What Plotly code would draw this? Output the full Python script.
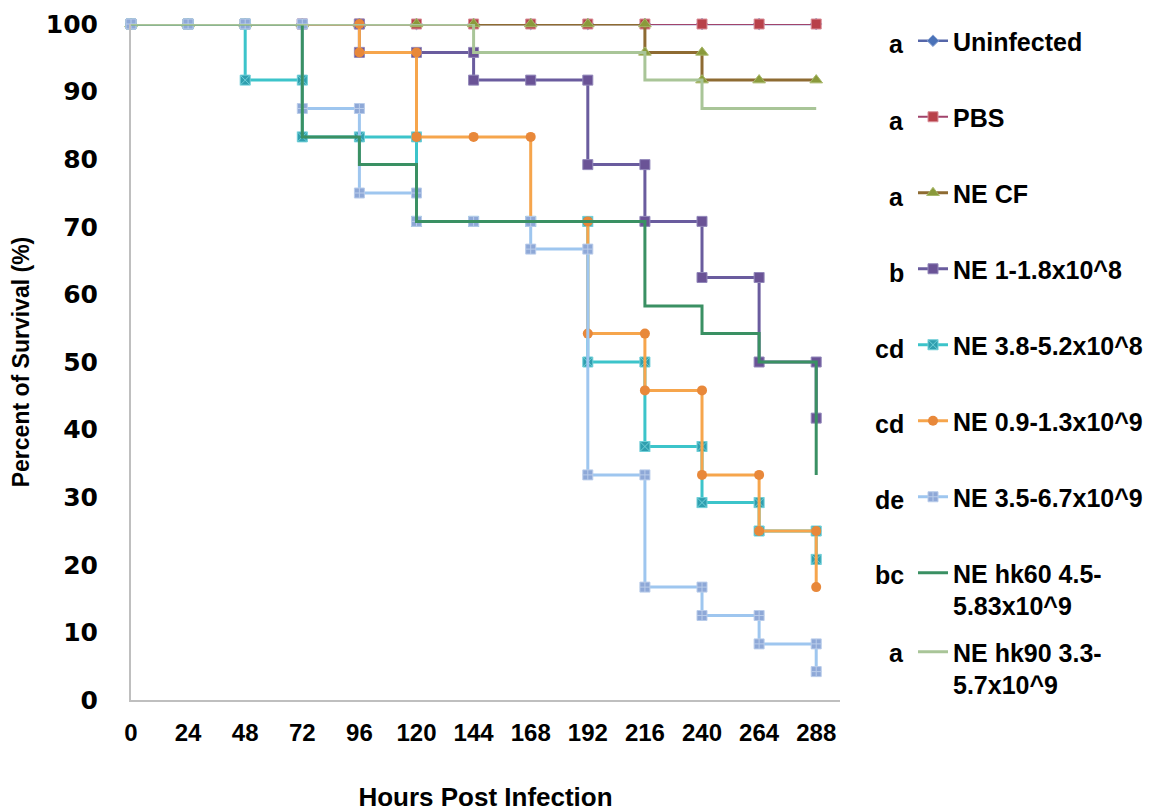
import plotly.graph_objects as go

# Sampling times (hours post infection) used for the axis ticks
hours = [0, 24, 48, 72, 96, 120, 144, 168, 192, 216, 240, 264, 288]

# Kaplan-Meier style step data: repeated hours mark the drop at that time point
uninfected_h = hours
uninfected_s = [100] * 13

pbs_h = hours
pbs_s = [100] * 13

cf_h = [0, 24, 48, 72, 96, 120, 144, 168, 192, 216, 216, 240, 240, 264, 288]
cf_s = [100, 100, 100, 100, 100, 100, 100, 100, 100, 100, 95.8, 95.8, 91.7, 91.7, 91.7]

ne8a_h = [0, 24, 48, 72, 96, 96, 120, 144, 144, 168, 192, 192, 216, 216, 240, 240, 264, 264, 288, 288]
ne8a_s = [100, 100, 100, 100, 100, 95.8, 95.8, 95.8, 91.7, 91.7, 91.7, 79.2, 79.2, 70.8, 70.8, 62.5, 62.5, 50, 50, 41.7]

ne8b_h = [0, 24, 48, 48, 72, 72, 96, 120, 120, 144, 168, 192, 192, 216, 216, 240, 240, 264, 264, 288, 288]
ne8b_s = [100, 100, 100, 91.7, 91.7, 83.3, 83.3, 83.3, 70.8, 70.8, 70.8, 70.8, 50, 50, 37.5, 37.5, 29.2, 29.2, 25, 25, 20.8]

ne9a_h = [0, 24, 48, 72, 96, 96, 120, 120, 144, 168, 168, 192, 192, 216, 216, 240, 240, 264, 264, 288, 288]
ne9a_s = [100, 100, 100, 100, 100, 95.8, 95.8, 83.3, 83.3, 83.3, 70.8, 70.8, 54.2, 54.2, 45.8, 45.8, 33.3, 33.3, 25, 25, 16.7]

ne9b_h = [0, 24, 48, 72, 72, 96, 96, 120, 120, 144, 168, 168, 192, 192, 216, 216, 240, 240, 264, 264, 288, 288]
ne9b_s = [100, 100, 100, 100, 87.5, 87.5, 75, 75, 70.8, 70.8, 70.8, 66.7, 66.7, 33.3, 33.3, 16.7, 16.7, 12.5, 12.5, 8.3, 8.3, 4.2]

hk60_h = [0, 24, 48, 72, 72, 96, 96, 120, 120, 144, 168, 192, 216, 216, 240, 240, 264, 264, 288, 288]
hk60_s = [100, 100, 100, 100, 83.3, 83.3, 79.2, 79.2, 70.8, 70.8, 70.8, 70.8, 70.8, 58.3, 58.3, 54.2, 54.2, 50, 50, 33.3]

hk90_h = [0, 24, 48, 72, 96, 120, 144, 144, 168, 192, 216, 216, 240, 240, 264, 288]
hk90_s = [100, 100, 100, 100, 100, 100, 100, 95.8, 95.8, 95.8, 95.8, 91.7, 91.7, 87.5, 87.5, 87.5]

# Group names and their statistical letters
names = ["Uninfected", "PBS", "NE CF", "NE 1-1.8x10^8", "NE 3.8-5.2x10^8",
         "NE 0.9-1.3x10^9", "NE 3.5-6.7x10^9", "NE hk60 4.5-<br>5.83x10^9",
         "NE hk90 3.3-<br>5.7x10^9"]
letters = ["a", "a", "a", "b", "cd", "cd", "de", "bc", "a"]

series = [
    (uninfected_h, uninfected_s, dict(color="#5566A9", width=2.5),
     dict(symbol="diamond", size=9, color="#4A72B8", line=dict(color="#8AA3D3", width=1))),
    (pbs_h, pbs_s, dict(color="#A1436B", width=2),
     dict(symbol="square", size=10, color="#B8414A", line=dict(color="#D9909A", width=1))),
    (cf_h, cf_s, dict(color="#8E6B32", width=3),
     dict(symbol="triangle-up", size=11, color="#8A9A3B", line=dict(color="#A8B86A", width=1))),
    (ne8a_h, ne8a_s, dict(color="#6A5C9E", width=3),
     dict(symbol="square", size=10, color="#6A5396", line=dict(color="#9288BA", width=1))),
    (ne8b_h, ne8b_s, dict(color="#3CC4CA", width=3),
     dict(symbol="square-x", size=10, color="#2F9FAF", line=dict(color="#6FCFD8", width=1))),
    (ne9a_h, ne9a_s, dict(color="#F6A54C", width=3),
     dict(symbol="circle", size=10, color="#E8883A", line=dict(color="#E8883A", width=0))),
    (ne9b_h, ne9b_s, dict(color="#9EC6EF", width=3),
     dict(symbol="square-cross", size=10, color="#8EA8D7", line=dict(color="#B9CCEA", width=1))),
    (hk60_h, hk60_s, dict(color="#3A9063", width=3), None),
    (hk90_h, hk90_s, dict(color="#A9C598", width=3), None),
]

fig = go.Figure()
for i, (h, s, ln, mk) in enumerate(series):
    kw = dict(
        x=h, y=s, name=names[i], line=ln, cliponaxis=False,
        legendgroup=f"g{i}",
        legend="legend2" if i == 8 else "legend",
    )
    if mk is None:
        kw["mode"] = "lines"
    else:
        kw["mode"] = "lines+markers"
        kw["marker"] = mk
    fig.add_trace(go.Scatter(**kw))

# Plot area geometry (pixels) used to place legend letters
L, R, T, B = 131, 325, 24, 112
W, H = 1165, 812
pw, ph = W - L - R, H - T - B


def px_x(x):
    return (x - L) / pw


def px_y(y):
    return (H - B - y) / ph


item_y = [43, 120, 196, 272, 348, 423, 499, 574, 652]
annotations = []
for lt, yy in zip(letters, item_y):
    annotations.append(dict(
        text=lt, xref="paper", yref="paper", x=px_x(906), y=px_y(yy + 1),
        xanchor="right", yanchor="middle", showarrow=False,
        font=dict(family="Liberation Sans", size=25, color="#000000", weight="bold"),
    ))

legend_font = dict(family="Liberation Sans", size=25, color="#000000", weight="bold")

fig.update_layout(
    width=W, height=H,
    margin=dict(l=L, r=R, t=T, b=B),
    paper_bgcolor="#FFFFFF", plot_bgcolor="#FFFFFF",
    showlegend=True,
    legend=dict(
        x=px_x(913), y=px_y(18), xanchor="left", yanchor="top",
        font=legend_font, tracegroupgap=40.5, valign="top",
        bgcolor="rgba(0,0,0,0)", itemsizing="trace", maxheight=790,
    ),
    legend2=dict(
        x=px_x(913), y=px_y(629), xanchor="left", yanchor="top",
        font=legend_font, valign="top",
        bgcolor="rgba(0,0,0,0)", itemsizing="trace", maxheight=200,
    ),
    annotations=annotations,
    xaxis=dict(
        range=[0, 298], tickmode="array", tickvals=hours,
        ticktext=[str(h) for h in hours],
        showgrid=False, zeroline=False, showline=True, automargin=False,
        linecolor="#BFBFBF", linewidth=2, ticks="",
        ticklabelstandoff=10,
        tickfont=dict(family="Liberation Sans", size=24, color="#000000", weight="bold"),
        title=dict(text="Hours Post Infection", standoff=45,
                   font=dict(family="Liberation Sans", size=26, color="#000000", weight="bold")),
    ),
    yaxis=dict(
        range=[0, 100], dtick=10, tick0=0,
        showgrid=False, zeroline=False, showline=True, automargin=False,
        linecolor="#BFBFBF", linewidth=2, ticks="",
        ticklabelstandoff=26,
        tickfont=dict(family="DejaVu Sans", size=25, color="#000000", weight="bold"),
        title=dict(text="Percent of Survival (%)", standoff=10,
                   font=dict(family="Liberation Sans", size=23, color="#000000", weight="bold")),
    ),
)

fig.write_html("out.html")
